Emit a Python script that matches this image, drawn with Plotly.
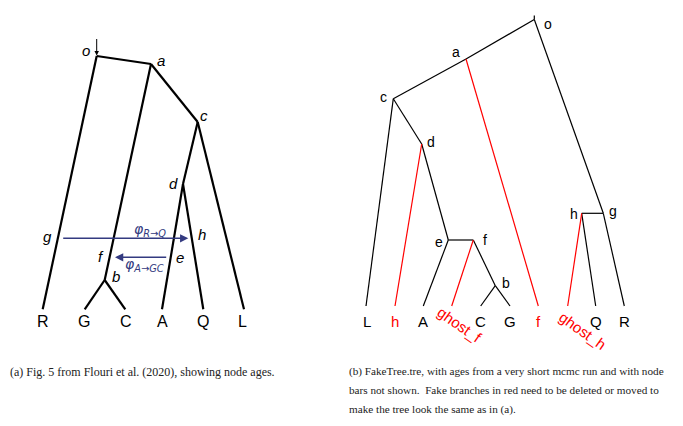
import plotly.graph_objects as go

# ---- tree (a): Flouri et al. 2020, node positions on the page ----
a_names = ["o", "a", "c", "d", "b", "R", "G", "C", "A", "Q", "L"]
a_x = [96.7, 151.0, 197.7, 183.0, 104.7, 42.7, 84.7, 125.3, 162.0, 203.3, 244.0]
a_y = [56.0, 64.0, 122.0, 184.0, 280.0, 309.3, 309.3, 309.3, 309.3, 309.3, 309.3]
a_edges = [("o", "R"), ("o", "a"), ("a", "b"), ("a", "c"), ("c", "d"), ("d", "A"),
           ("d", "Q"), ("c", "L"), ("b", "G"), ("b", "C")]
a_tips = ["R", "G", "C", "A", "Q", "L"]
a_tip_x = [42.7, 84.2, 125.7, 162.3, 202.5, 242.5]

# italic node labels in (a)
a_lab = ["o", "a", "c", "d", "g", "h", "f", "e", "b"]
a_lab_x = [86.0, 160.5, 203.5, 173.0, 47.0, 202.3, 100.8, 180.0, 116.0]
a_lab_y = [50.5, 60.0, 115.0, 183.0, 236.0, 234.5, 256.5, 257.0, 276.5]

# introgression arrows (from x, to x, y)
mig_sub = ["R→Q", "A→GC"]
mig_from = [61.7, 167.7]
mig_to = [188.3, 115.0]
mig_y = [238.3, 257.3]
mig_lab_x = [149.5, 144.0]
mig_lab_y = [229.5, 265.0]

# ---- tree (b): FakeTree.tre ----
b_names = ["o", "a", "c", "d", "e", "f", "b", "g", "h",
           "L", "h_tip", "A", "ghost_f", "C", "G", "f_tip", "ghost_h", "Q", "R"]
b_x = [534.3, 466.0, 393.3, 421.7, 448.3, 473.3, 495.3, 603.3, 581.7,
       366.0, 395.0, 423.3, 451.7, 480.7, 510.0, 538.3, 567.7, 595.7, 624.3]
b_y = [19.5, 59.0, 98.7, 144.0, 240.0, 240.0, 285.7, 213.3, 213.3,
       306, 306, 306, 306, 306, 306, 306, 306, 306, 306]
b_edges = [("o", "a"), ("a", "c"), ("o", "g"), ("g", "h"), ("g", "R"), ("h", "Q"),
           ("c", "L"), ("c", "d"), ("d", "e"), ("e", "f"), ("e", "A"), ("f", "b"),
           ("b", "C"), ("b", "G")]
b_fake = [("a", "f_tip"), ("d", "h_tip"), ("f", "ghost_f"), ("h", "ghost_h")]

b_tips = ["L", "h", "A", "C", "G", "f", "Q", "R"]
b_tip_x = [367.3, 395.0, 423.3, 480.7, 510.0, 538.3, 595.7, 624.3]
b_tip_red = [False, True, False, False, False, True, False, False]
b_ghost = ["ghost_f", "ghost_h"]
b_ghost_x = [459.5, 582.5]
b_ghost_y = [324.0, 330.5]

b_lab = ["o", "a", "c", "d", "e", "f", "b", "g", "h"]
b_lab_x = [547.7, 455.7, 383.3, 430.7, 438.7, 484.7, 506.0, 612.7, 574.3]
b_lab_y = [24.0, 52.3, 96.7, 141.7, 242.3, 240.0, 283.3, 210.7, 214.3]

caption_a = "(a) Fig. 5 from Flouri et al. (2020), showing node ages."
caption_b = [
    "(b) FakeTree.tre, with ages from a very short mcmc run and with node",
    "bars not shown.  Fake branches in red need to be deleted or moved to",
    "make the tree look the same as in (a).",
]

SANS = "Liberation Sans, Arial, sans-serif"
SERIF = "Liberation Serif, Times New Roman, serif"
NAVY = "#333a80"
RED = "#ff0000"
PAGE_MARGIN = 8  # default body margin of the html page


def edge_xy(names, xs, ys, edges):
    pos = dict(zip(names, zip(xs, ys)))
    ex, ey = [], []
    for p, q in edges:
        ex += [pos[p][0], pos[q][0], None]
        ey += [pos[p][1], pos[q][1], None]
    return ex, ey


fig = go.Figure()

ex, ey = edge_xy(a_names, a_x, a_y, a_edges)
fig.add_trace(go.Scatter(x=ex, y=ey, mode="lines",
                         line=dict(color="black", width=2.2), hoverinfo="skip"))

ex, ey = edge_xy(b_names, b_x, b_y, b_edges)
ex += [b_x[0], b_x[0], None]
ey += [15.5, b_y[0], None]
fig.add_trace(go.Scatter(x=ex, y=ey, mode="lines",
                         line=dict(color="black", width=1.2), hoverinfo="skip"))

ex, ey = edge_xy(b_names, b_x, b_y, b_fake)
fig.add_trace(go.Scatter(x=ex, y=ey, mode="lines",
                         line=dict(color=RED, width=1.2), hoverinfo="skip"))

ann = []

# root arrow of (a)
ann.append(dict(x=a_x[0], y=a_y[0] - 0.5, ax=a_x[0], ay=37.5, xref="x", yref="y",
                axref="x", ayref="y", showarrow=True, arrowhead=2, arrowsize=0.9,
                arrowwidth=1, arrowcolor="black", text=""))

for x0, x1, y in zip(mig_from, mig_to, mig_y):
    ann.append(dict(x=x1, y=y, ax=x0, ay=y, xref="x", yref="y", axref="x",
                    ayref="y", showarrow=True, arrowhead=2, arrowsize=1.1,
                    arrowwidth=1.5, arrowcolor=NAVY, text=""))

for s, x, y in zip(mig_sub, mig_lab_x, mig_lab_y):
    ann.append(dict(x=x, y=y, text="<i>φ<sub>" + s + "</sub></i>", showarrow=False,
                    font=dict(family="DejaVu Sans, sans-serif", size=14, color=NAVY)))

for t, x in zip(a_tips, a_tip_x):
    ann.append(dict(x=x, y=321.7, text=t, showarrow=False,
                    font=dict(family=SANS, size=16, color="black")))

for t, x, y in zip(a_lab, a_lab_x, a_lab_y):
    ann.append(dict(x=x, y=y, text="<i>" + t + "</i>", showarrow=False,
                    font=dict(family=SANS, size=15, color="black")))

for t, x, red in zip(b_tips, b_tip_x, b_tip_red):
    ann.append(dict(x=x, y=321.7, text=t, showarrow=False,
                    font=dict(family=SANS, size=15, color=RED if red else "black")))

for t, x, y in zip(b_ghost, b_ghost_x, b_ghost_y):
    ann.append(dict(x=x, y=y, text=t, showarrow=False, textangle=35,
                    font=dict(family=SANS, size=15, color=RED)))

for t, x, y in zip(b_lab, b_lab_x, b_lab_y):
    ann.append(dict(x=x, y=y, text=t, showarrow=False,
                    font=dict(family=SANS, size=14, color="black")))

ann.append(dict(x=8.3, y=371.7, text=caption_a, showarrow=False, xanchor="left",
                font=dict(family=SERIF, size=12, color="#222")))
for i, line in enumerate(caption_b):
    ann.append(dict(x=346.7, y=371.7 + i * 18.7, text=line, showarrow=False,
                    xanchor="left", font=dict(family=SERIF, size=11.2, color="#222")))

fig.update_layout(
    width=683 - PAGE_MARGIN,
    height=426 - PAGE_MARGIN,
    margin=dict(l=0, r=0, t=0, b=0),
    paper_bgcolor="white",
    plot_bgcolor="white",
    showlegend=False,
    annotations=ann,
    xaxis=dict(range=[PAGE_MARGIN, 683], visible=False, fixedrange=True),
    yaxis=dict(range=[426, PAGE_MARGIN], visible=False, fixedrange=True),
)

fig.write_html("out.html")
